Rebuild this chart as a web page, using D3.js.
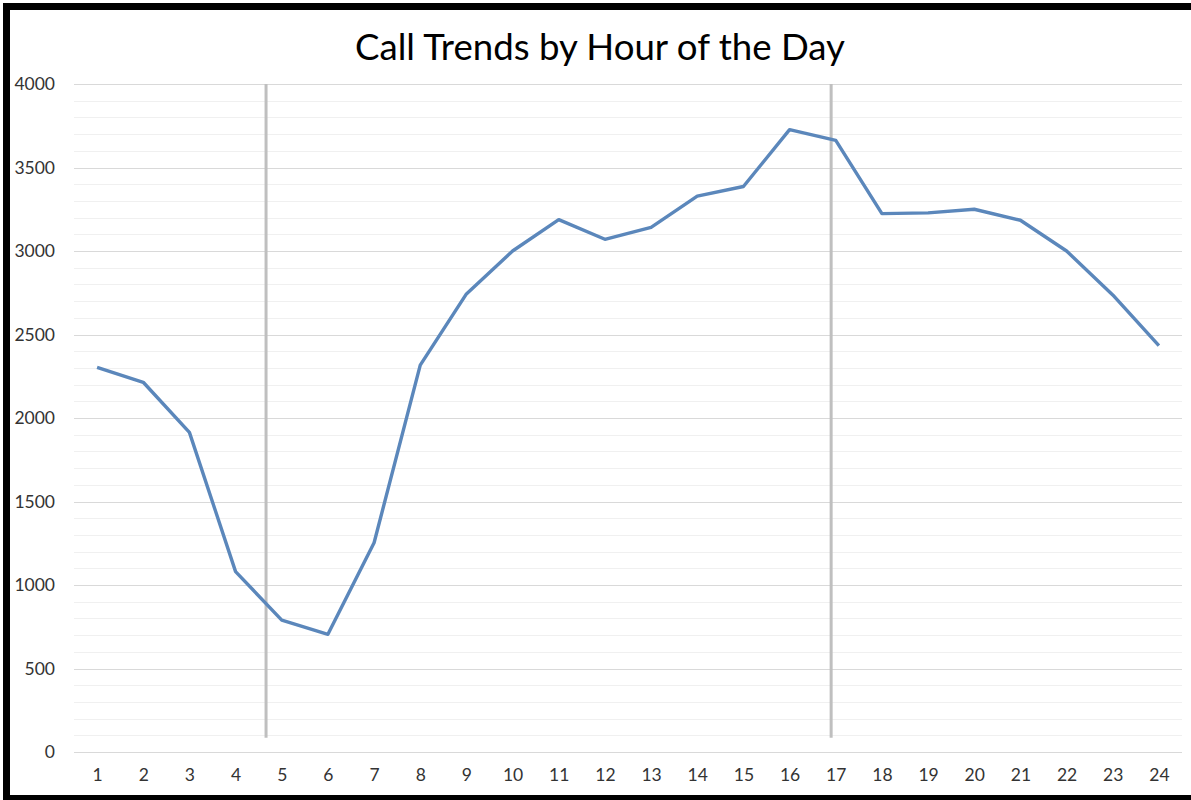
<!DOCTYPE html>
<html>
<head>
<meta charset="utf-8">
<script src="https://cdn.jsdelivr.net/npm/d3@7"></script>
<style>
	html, body { margin: 0; padding: 0; background: #fff; }
	svg { display: block; }
	.axis text { font-family: Lato, 'Open Sans', sans-serif; fill: #333; }
	.axis .domain { display: none; }
</style>
</head>
<body>
<script>
/* global d3 */

// hour of day (categories)
var hours = [1, 2, 3, 4, 5, 6, 7, 8, 9, 10, 11, 12, 13, 14, 15, 16, 17, 18, 19, 20, 21, 22, 23, 24];

// calls per hour
var calls = [2303, 2214, 1914, 1080, 790, 705, 1253, 2317, 2743, 3000, 3188,
	3070, 3142, 3329, 3386, 3727, 3662, 3224, 3228, 3250, 3184, 3000, 2737, 2433];

// vertical marker lines (hour positions)
var markerHours = [4.66, 16.9];
var markerExtent = [85, 4000];

// axis ticks
var yTicks = [0, 500, 1000, 1500, 2000, 2500, 3000, 3500, 4000];
var yMinorTicks = d3.range(0, 4001, 100);

var titleText = 'Call Trends by Hour of the Day';

(function() {
	var W = 1191, H = 800;
	var plot = {left: 74, right: 1182, top: 84, bottom: 752};

	var svg = d3.select('body').append('svg')
	.attr('width', W)
	.attr('height', H);

	svg.append('rect')
	.attr('width', W)
	.attr('height', H)
	.attr('fill', '#fff');

	// frame (cropped screenshot border)
	svg.append('rect').attr('x', 3).attr('y', 3).attr('width', W - 3).attr('height', 7).attr('fill', '#000');
	svg.append('rect').attr('x', 3).attr('y', 3).attr('width', 7).attr('height', H - 3).attr('fill', '#000');
	svg.append('rect').attr('x', 3).attr('y', 795).attr('width', W - 3).attr('height', 5).attr('fill', '#000');

	var x = d3.scaleLinear().domain([0.5, 24.5]).range([plot.left, plot.right]);
	var y = d3.scaleLinear().domain([0, 4000]).range([plot.bottom, plot.top]);

	// minor gridlines
	svg.append('g')
	.selectAll('line')
	.data(yMinorTicks.filter(function(v) { return v % 500 !== 0; }))
	.enter().append('line')
	.attr('x1', plot.left)
	.attr('x2', plot.right)
	.attr('y1', function(d) { return Math.round(y(d)) + 0.5; })
	.attr('y2', function(d) { return Math.round(y(d)) + 0.5; })
	.attr('stroke', '#f0f0f0')
	.attr('stroke-width', 1);

	// major gridlines
	svg.append('g')
	.selectAll('line')
	.data(yTicks)
	.enter().append('line')
	.attr('x1', plot.left)
	.attr('x2', plot.right)
	.attr('y1', function(d) { return Math.round(y(d)) + 0.5; })
	.attr('y2', function(d) { return Math.round(y(d)) + 0.5; })
	.attr('stroke', '#d9d9d9')
	.attr('stroke-width', 1);

	// axes
	svg.append('g')
	.attr('class', 'y axis')
	.attr('transform', 'translate(' + plot.left + ',0)')
	.call(d3.axisLeft(y).tickValues(yTicks).tickSize(0).tickPadding(19).tickFormat(d3.format('d')))
	.selectAll('text')
	.style('font-size', '17.5px');

	svg.append('g')
	.attr('class', 'x axis')
	.attr('transform', 'translate(0,' + plot.bottom + ')')
	.call(d3.axisBottom(x).tickValues(hours).tickSize(0).tickPadding(17).tickFormat(d3.format('d')))
	.selectAll('text')
	.style('font-size', '17.5px');

	// marker lines
	svg.append('g')
	.selectAll('line')
	.data(markerHours)
	.enter().append('line')
	.attr('x1', function(d) { return x(d); })
	.attr('x2', function(d) { return x(d); })
	.attr('y1', y(markerExtent[1]))
	.attr('y2', y(markerExtent[0]))
	.attr('stroke', '#bfbfbf')
	.attr('stroke-width', 3);

	// series
	var line = d3.line()
	.x(function(d, i) { return x(hours[i]); })
	.y(function(d) { return y(d); });

	svg.append('path')
	.datum(calls)
	.attr('fill', 'none')
	.attr('stroke', '#5b87bb')
	.attr('stroke-width', 3.4)
	.attr('stroke-linejoin', 'round')
	.attr('d', line);

	// title, sized to the reference width
	var title = svg.append('text')
	.attr('x', 600)
	.attr('y', 60)
	.attr('text-anchor', 'middle')
	.style('font-family', 'Lato, "Open Sans", sans-serif')
	.style('font-size', '40px')
	.attr('fill', '#000')
	.text(titleText);

	var tw = title.node().getComputedTextLength();
	title.style('font-size', (40 * 490 / tw) + 'px');
}());
</script>
</body>
</html>
